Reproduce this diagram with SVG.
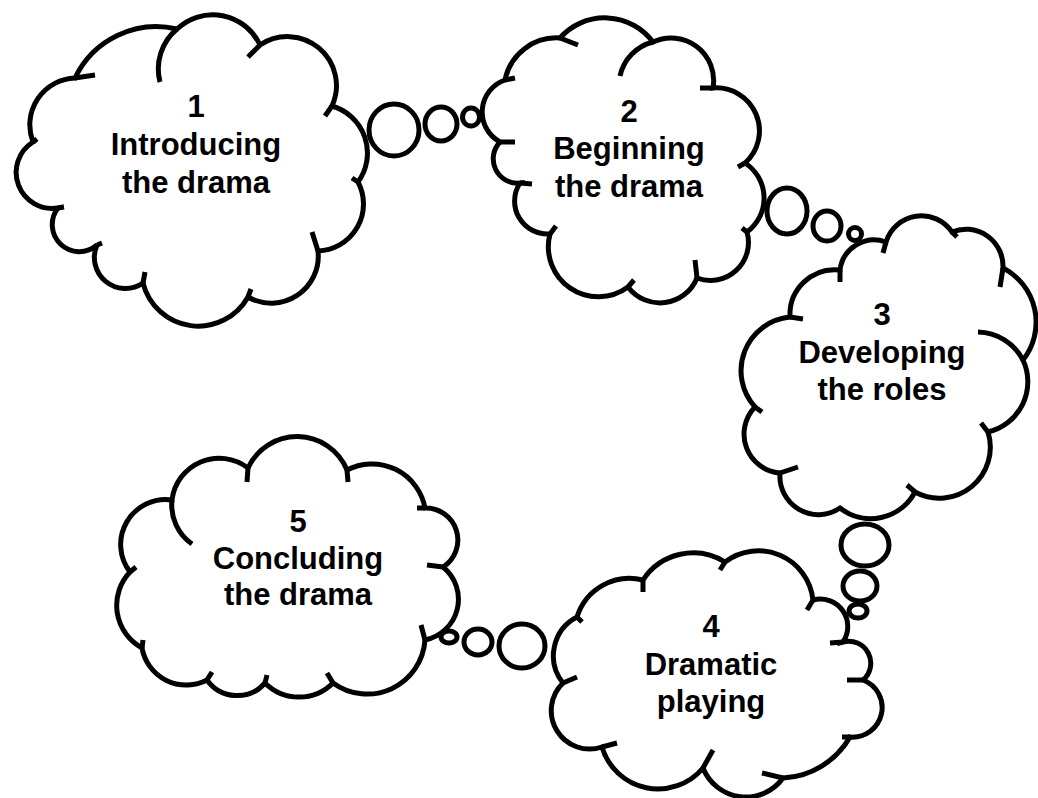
<svg xmlns="http://www.w3.org/2000/svg" width="1038" height="798" viewBox="0 0 1038 798">
  <style>
    .cloud { fill: #ffffff; stroke: #000000; stroke-width: 5; stroke-linejoin: miter; }
    .hook { fill: none; stroke: #000000; stroke-width: 5; stroke-linecap: butt; }
    .bubble { fill: #ffffff; stroke: #000000; stroke-width: 5; }
    .label { font-family: "Liberation Sans", Arial, sans-serif; font-weight: bold; font-size: 31px; fill: #000000; text-anchor: middle; }
  </style>
  <rect width="1038" height="798" fill="#ffffff"/>

  <!-- thought-bubble chains linking the stages -->
  <g id="connectors">
    <g id="link-1-2">
      <ellipse class="bubble" cx="394" cy="130" rx="25" ry="26"/>
      <ellipse class="bubble" cx="441" cy="124" rx="16" ry="17"/>
      <ellipse class="bubble" cx="471" cy="117" rx="8.5" ry="9"/>
    </g>
    <g id="link-2-3">
      <ellipse class="bubble" cx="787" cy="211" rx="20" ry="23"/>
      <ellipse class="bubble" cx="827" cy="226" rx="14" ry="15"/>
      <ellipse class="bubble" cx="855" cy="234" rx="6.5" ry="6.5"/>
    </g>
    <g id="link-3-4">
      <ellipse class="bubble" cx="865" cy="545" rx="24" ry="21"/>
      <ellipse class="bubble" cx="860" cy="586" rx="17" ry="15"/>
      <ellipse class="bubble" cx="858" cy="611" rx="9" ry="7"/>
    </g>
    <g id="link-4-5">
      <ellipse class="bubble" cx="522" cy="646" rx="23" ry="22"/>
      <ellipse class="bubble" cx="478" cy="642" rx="14" ry="13"/>
      <ellipse class="bubble" cx="449" cy="637" rx="8" ry="6"/>
    </g>
  </g>

  <!-- stage 1 -->
  <g id="cloud-1">
    <path class="cloud" d="M75,78 A90,90 0 0 1 177,29 A52,52 0 0 1 260,45 A49,49 0 0 1 332,106 A49,49 0 0 1 358,182 A47,47 0 0 1 318,251 A47,47 0 0 1 248,297 A57,57 0 0 1 143,283 A31,31 0 0 1 97,245 A27,27 0 0 1 58,208 A36,36 0 0 1 33,142 A47,47 0 0 1 75,78 Z"/>
    <path class="hook" d="M177,29 A52,52 0 0 0 160,82 M75,78 L95,75 M260,45 L248,57 M332,106 L325,116 M358,182 L352,178 M318,251 L312,232 M248,297 L251,289 M143,283 L145,272 M97,245 L102,243 M58,208 L64,207 M33,142 L37,139"/>
    <text class="label" x="196" y="117">1</text>
    <text class="label" x="196" y="155">Introducing</text>
    <text class="label" x="196" y="193">the drama</text>
  </g>

  <!-- stage 2 -->
  <g id="cloud-2">
    <path class="cloud" d="M505,80 A52.5,52.5 0 0 1 560,38 A60,60 0 0 1 653,42 A42.6,42.6 0 0 1 713,88 A43,43 0 0 1 745,163 A42,42 0 0 1 747,232 A38,38 0 0 1 697,278 A40,40 0 0 1 628,287 A50,50 0 0 1 550,234 A33,33 0 0 1 520,183 A24.3,24.3 0 0 1 500,142 A34,34 0 0 1 505,80 Z"/>
    <path class="hook" d="M653,42 A45,45 0 0 0 620,76 M505,80 L515,78 M560,38 L578,45 M713,88 L700,88 M745,163 L738,167 M747,232 L742,228 M697,278 L695,260 M628,287 L634,280 M550,234 L556,226 M520,183 L532,184 M500,142 L515,142"/>
    <text class="label" x="629" y="122">2</text>
    <text class="label" x="629" y="159">Beginning</text>
    <text class="label" x="629" y="197">the drama</text>
  </g>

  <!-- stage 3 -->
  <g id="cloud-3">
    <path class="cloud" d="M886,242 A37,37 0 0 1 952,232 A37,37 0 0 1 1003,268 A61,61 0 0 1 1023,360 A51.6,51.6 0 0 1 988,432 A51,51 0 0 1 915,492 A50,50 0 0 1 840,508 A38.5,38.5 0 0 1 780,473 A39,39 0 0 1 755,407 A54,54 0 0 1 790,317 A45,45 0 0 1 840,270 A34.4,34.4 0 0 1 886,242 Z"/>
    <path class="hook" d="M1023,360 A52,52 0 0 0 978,332 M886,242 L883,253 M952,232 L957,237 M1003,268 L1000,287 M988,432 L981,423 M915,492 L907,485 M780,473 L798,467 M755,407 L762,412 M790,317 L803,319 M840,270 L840,282"/>
    <text class="label" x="882" y="325">3</text>
    <text class="label" x="882" y="363">Developing</text>
    <text class="label" x="882" y="400">the roles</text>
  </g>

  <!-- stage 4 -->
  <g id="cloud-4">
    <path class="cloud" d="M643,580 A60,60 0 0 1 725,562 A55,55 0 0 1 813,600 A27.5,27.5 0 0 1 843,642 A22,22 0 0 1 863,680 A29.5,29.5 0 0 1 850,737 A82,82 0 0 1 783,778 A46,46 0 0 1 703,768 A58.5,58.5 0 0 1 602,747 A38.4,38.4 0 0 1 563,683 A43.6,43.6 0 0 1 577,617 A55,55 0 0 1 643,580 Z"/>
    <path class="hook" d="M643,580 L643,592 M725,562 L720,570 M813,600 L807,610 M843,642 L830,643 M863,680 L847,680 M850,737 L842,737 M783,778 L762,773 M703,768 L713,750 M602,747 L617,743 M563,683 L577,677 M577,617 L582,622"/>
    <text class="label" x="711" y="637">4</text>
    <text class="label" x="711" y="675">Dramatic</text>
    <text class="label" x="711" y="712">playing</text>
  </g>

  <!-- stage 5 -->
  <g id="cloud-5">
    <path class="cloud" d="M248,468 A54,54 0 0 1 347,470 A54,54 0 0 1 425,508 A32,32 0 0 1 443,567 A41.5,41.5 0 0 1 425,640 A58,58 0 0 1 333,683 A48,48 0 0 1 265,683 A37,37 0 0 1 207,680 A45,45 0 0 1 142,648 A48.5,48.5 0 0 1 130,572 A45,45 0 0 1 172,500 A47.5,47.5 0 0 1 248,468 Z"/>
    <path class="hook" d="M172,500 A47.5,47.5 0 0 0 192,544 M248,468 L247,482 M347,470 L348,482 M425,508 L417,508 M443,567 L427,565 M425,640 L421,625 M333,683 L327,673 M265,683 L267,675 M207,680 L212,672 M142,648 L143,640 M130,572 L136,567"/>
    <text class="label" x="298" y="532">5</text>
    <text class="label" x="298" y="569">Concluding</text>
    <text class="label" x="298" y="605">the drama</text>
  </g>
</svg>
